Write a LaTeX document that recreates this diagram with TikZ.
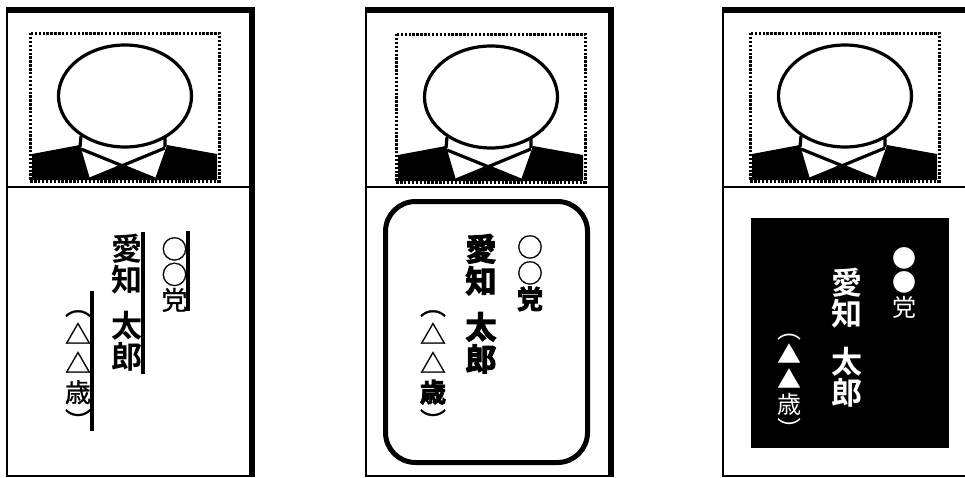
\documentclass[tikz,border=0pt]{standalone}
\usepackage{fontspec}
\newfontfamily\jpfont{Noto Sans CJK JP}[BoldFont={* Bold}]
\newfontfamily\jpmedium{Noto Sans CJK JP}[FakeBold=1]
\newfontfamily\jpheavy{Noto Sans CJK JP Bold}[FakeBold=3.5]
\newcommand{\photocard}[2]{%
    \begin{scope}[xshift=#1,yshift=#2]
        % Foto
        \draw[photoline] (125,96) ellipse (66.5 and 51);
        \draw[photoline] (81,136) -- (80,147) (165,137) -- (165,147);
        \fill (32,154) -- (80,145) -- (90,179) -- (123,166) -- (155,179) -- (167,145) -- (217,154) -- (217,180) -- (32,180) -- cycle;
        \draw[photoline] (81,149) -- (155,179) (165,148) -- (90,179);
        \draw[photodots] (30,33) rectangle (219,181);
    \end{scope}}
\tikzset{
    photoline/.style={line width=3.2pt},
    photodots/.style={line width=3pt, dash pattern=on 2.4pt off 1.5pt},
    thickedge/.style={line width=6pt},
    thinedge/.style={line width=2pt},
    vline/.style={line width=3.8pt},
    vtext/.style={inner sep=0pt, align=center, anchor=north},
}
\begin{document}
\begin{tikzpicture}[x=1pt,y=-1pt]
    \useasboundingbox (0,0) rectangle (965,477);

    % Marco izquierdo
    \draw[thinedge] (7,187) -- (252,187);
    \draw[thinedge] (7,7) -- (7,476) -- (252,476);
    \draw[thickedge] (7,10) -- (252,10) -- (252,477);
    \photocard{0pt}{0pt}

    % Marco central
    \draw[thinedge] (366,187) -- (611,187);
    \draw[thinedge] (366,7) -- (366,476) -- (611,476);
    \draw[thickedge] (366,10) -- (611,10) -- (611,477);
    \photocard{366pt}{-1pt}

    % Marco derecho
    \draw[thinedge] (723,187) -- (965,187);
    \draw[thinedge] (723,7) -- (723,476) -- (965,476);
    \draw[thickedge] (723,10) -- (965,10);
    \photocard{720pt}{0pt}

    % Texto con linea lateral
    \node[vtext, font=\jpfont\bfseries\fontsize{31}{31}\selectfont] (nameA) at (126.5,234) {愛\\知\\[15pt]太\\郎};
    \node[vtext, font=\jpmedium\fontsize{26}{25.5}\selectfont] (partyA) at (174.5,237) {○\\○\\党};
    \node[vtext, font=\jpmedium\fontsize{26}{29}\selectfont] (ageA) at (78,310) {︵\\△\\△\\歳\\︶};
    \draw[vline] (143,232) -- (143,374);
    \draw[vline] (188,231) -- (188,311);
    \draw[vline] (92,291) -- (92,431);

    % Texto en recuadro redondeado
    \draw[line width=5pt, rounded corners=30pt] (385.5,201.5) rectangle (587.5,462.5);
    \node[vtext, font=\jpheavy\fontsize{31}{32}\selectfont] (nameB) at (481,234) {愛\\知\\[14pt]太\\郎};
    \node[vtext, font=\jpmedium\fontsize{26}{26}\selectfont] (partyB) at (530,235) {○\\○\\{\jpheavy 党}};
    \node[vtext, font=\jpmedium\fontsize{26}{29}\selectfont] (ageB) at (433,310) {︵\\△\\△\\{\jpheavy 歳}\\︶};

    % Texto invertido
    \fill (751,218) rectangle (949,448);
    \node[vtext, text=white, font=\jpfont\bfseries\fontsize{31}{31}\selectfont] (nameD) at (846.5,268) {愛\\知\\[17pt]太\\郎};
    \node[vtext, text=white, font=\jpfont\fontsize{24}{24.5}\selectfont] (partyD) at (904,247) {●\\●\\党};
    \node[vtext, text=white, font=\jpfont\fontsize{24}{25}\selectfont] (ageD) at (789,334) {︵\\▲\\▲\\歳\\︶};
\end{tikzpicture}
\end{document}
